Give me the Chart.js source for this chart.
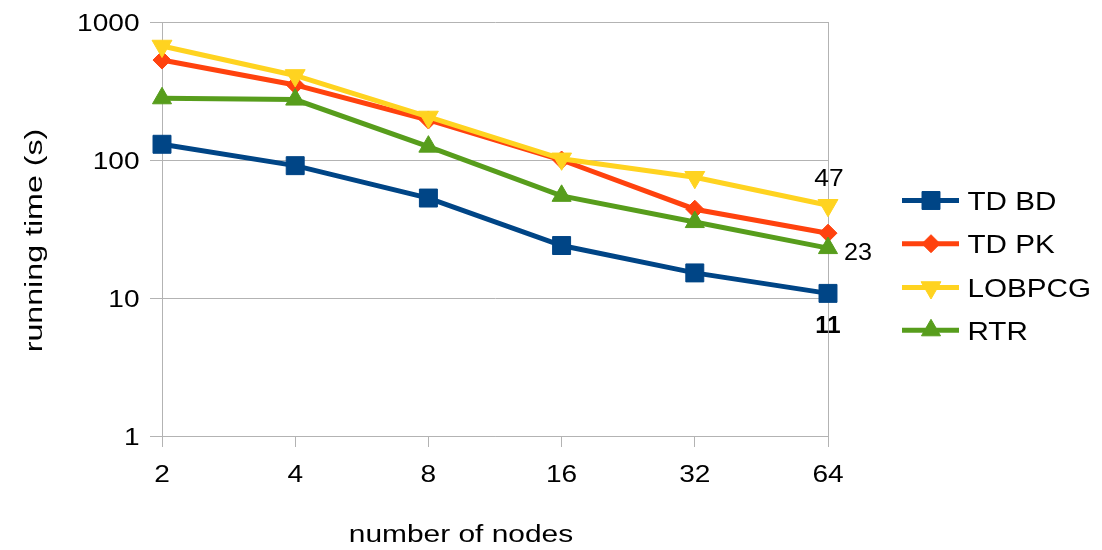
<!DOCTYPE html>
<html>
<head>
<meta charset="utf-8">
<script src="https://cdn.jsdelivr.net/npm/chart.js@4/dist/chart.umd.min.js"></script>
<style>
  html, body { margin: 0; padding: 0; background: #fff; }
  #wrap { width: 1102px; height: 550px; }
</style>
</head>
<body>
<div id="wrap"><canvas id="chart" width="1102" height="550"></canvas></div>
<script>
// values (running time in seconds)
const nodes = ['2', '4', '8', '16', '32', '64'];
const tdBd = [130, 91, 53, 24, 15.2, 10.8];
const tdPk = [530, 350, 195, 100, 44, 29.5];
const lobpcg = [670, 410, 205, 102, 75, 47];
const rtr = [280, 274, 125, 55, 35.5, 23];
const yTicks = [1, 10, 100, 1000];

const seriesNames = ['TD BD', 'TD PK', 'LOBPCG', 'RTR'];
const seriesColors = ['#004586', '#ff420e', '#ffd320', '#579d1c'];
const pointStyles = [
  {style: 'rect', radius: 12.7, rotation: 0},
  {style: 'rectRot', radius: 9, rotation: 0},
  {style: 'triangle', radius: 11.5, rotation: 180},
  {style: 'triangle', radius: 11, rotation: 0},
];

const fontFamily = "'Liberation Sans', Arial, sans-serif";
const gridColor = '#b3b3b3';

Chart.defaults.font.family = fontFamily;
Chart.defaults.color = '#000';

// the reference text is set wide, so glyphs get a horizontal stretch
function drawText(ctx, text, x, y, font, sx, align, rotate) {
  ctx.save();
  ctx.font = font;
  ctx.fillStyle = '#000';
  ctx.textAlign = align;
  ctx.textBaseline = 'alphabetic';
  ctx.translate(x, y);
  if (rotate) ctx.rotate(rotate);
  ctx.scale(sx, 1);
  ctx.fillText(text, 0, 0);
  ctx.restore();
}

function makeSet(i, data) {
  let p = pointStyles[i];
  return {
    label: seriesNames[i],
    data: data,
    borderColor: seriesColors[i],
    backgroundColor: seriesColors[i],
    borderWidth: 5,
    tension: 0,
    pointStyle: p.style,
    pointRadius: p.radius,
    pointHoverRadius: p.radius,
    pointRotation: p.rotation,
    pointBorderWidth: 1,
    pointBorderColor: seriesColors[i],
    pointBackgroundColor: seriesColors[i],
    order: 3 - i  // later series drawn on top
  };
}

const extras = {
  id: 'extras',
  afterDraw(chart) {
    const ctx = chart.ctx;
    const xs = chart.scales.x;
    const ys = chart.scales.y;

    // tick labels, positioned by the scales
    xs.ticks.forEach((t, i) => {
      drawText(ctx, xs.getLabelForValue(t.value), xs.getPixelForTick(i), 482, '24px ' + fontFamily, 1.17, 'center');
    });
    ys.ticks.forEach((t, i) => {
      drawText(ctx, String(t.value), 139.5, ys.getPixelForTick(i) + 8.5, '24px ' + fontFamily, 1.17, 'right');
    });

    // axis titles
    drawText(ctx, 'number of nodes', 461, 541.5, '23px ' + fontFamily, 1.3, 'center');
    drawText(ctx, 'running time (s)', 42, 240.5, '23px ' + fontFamily, 1.4, 'center', -Math.PI / 2);

    // value labels at the last point
    const last = nodes.length - 1;
    let pBd = chart.getDatasetMeta(0).data[last];
    let pLo = chart.getDatasetMeta(2).data[last];
    let pRt = chart.getDatasetMeta(3).data[last];
    drawText(ctx, String(Math.round(lobpcg[last])), pLo.x + 1, pLo.y - 19, '24px ' + fontFamily, 1.1, 'center');
    drawText(ctx, String(Math.round(rtr[last])), pRt.x + 16, pRt.y + 12, '24px ' + fontFamily, 1.05, 'left');
    drawText(ctx, String(Math.round(tdBd[last])), pBd.x, pBd.y + 40, 'bold 24px ' + fontFamily, 1.0, 'center');

    // legend: line sample with marker, then the name
    const rows = [200.5, 243.7, 287.5, 330.3];
    seriesNames.forEach((name, i) => {
      let y = rows[i];
      ctx.save();
      ctx.strokeStyle = seriesColors[i];
      ctx.fillStyle = seriesColors[i];
      ctx.lineWidth = 5;
      ctx.beginPath();
      ctx.moveTo(902, y);
      ctx.lineTo(959, y);
      ctx.stroke();
      ctx.lineWidth = 1;
      let p = pointStyles[i];
      Chart.helpers.drawPoint(ctx, {
        pointStyle: p.style, radius: p.radius, rotation: p.rotation, borderWidth: 1
      }, 931, y);
      ctx.restore();
      drawText(ctx, name, 967.5, y + 9.5, '26px ' + fontFamily, 1.14, 'left');
    });
  }
};

new Chart(document.getElementById('chart'), {
  type: 'line',
  data: {
    labels: nodes,
    datasets: [makeSet(0, tdBd), makeSet(1, tdPk), makeSet(2, lobpcg), makeSet(3, rtr)]
  },
  options: {
    responsive: false,
    devicePixelRatio: 1,
    animation: false,
    layout: {padding: {top: 22, right: 274, bottom: 0, left: 0}},
    plugins: {legend: {display: false}, tooltip: {enabled: false}},
    scales: {
      x: {
        type: 'category',
        offset: false,
        grid: {
          color: c => (c.index === 0 || c.index === nodes.length - 1) ? gridColor : 'rgba(0,0,0,0)',
          tickColor: gridColor,
          tickLength: 11
        },
        border: {color: gridColor},
        ticks: {font: {size: 24}, color: 'rgba(0,0,0,0)', padding: 8, maxRotation: 0, autoSkip: false},
        afterFit: s => { s.height = 114; }
      },
      y: {
        type: 'logarithmic',
        min: 1,
        max: 1000,
        afterBuildTicks: s => { s.ticks = yTicks.map(v => ({value: v})); },
        grid: {color: gridColor, tickColor: gridColor, tickLength: 12},
        border: {color: gridColor},
        ticks: {font: {size: 24}, color: 'rgba(0,0,0,0)', padding: 4, callback: v => String(v)},
        afterFit: s => { s.width = 162; }
      }
    }
  },
  plugins: [extras]
});
</script>
</body>
</html>
